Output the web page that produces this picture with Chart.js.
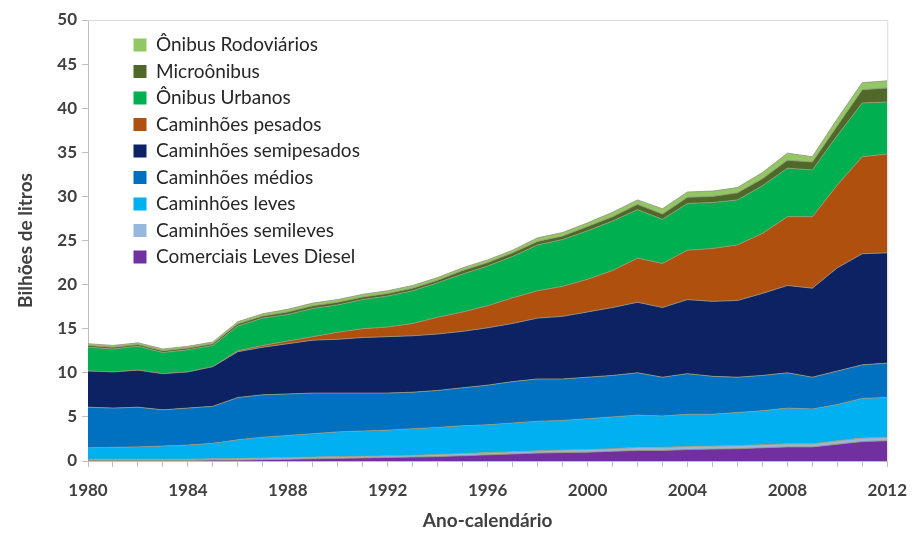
<!DOCTYPE html>
<html>
<head>
<meta charset="utf-8">
<script src="https://cdn.jsdelivr.net/npm/chart.js@4.4.1/dist/chart.umd.min.js"></script>
<style>
html, body { margin: 0; padding: 0; background: #fff; }
#wrap { width: 920px; height: 533px; }
</style>
</head>
<body>
<div id="wrap"><canvas id="mainChart"></canvas></div>
<script>
const years = [1980, 1981, 1982, 1983, 1984, 1985, 1986, 1987, 1988, 1989, 1990,
    1991, 1992, 1993, 1994, 1995, 1996, 1997, 1998, 1999, 2000,
    2001, 2002, 2003, 2004, 2005, 2006, 2007, 2008, 2009, 2010, 2011, 2012];

// bilhões de litros, from bottom layer to top layer
const comerciais = [0.05, 0.05, 0.05, 0.05, 0.05, 0.1, 0.1, 0.15, 0.2, 0.25, 0.3,
    0.35, 0.4, 0.45, 0.5, 0.6, 0.7, 0.8, 0.9, 0.95, 1.0,
    1.1, 1.2, 1.2, 1.3, 1.35, 1.4, 1.5, 1.6, 1.6, 1.9, 2.2, 2.3];
const semileves = [0.15, 0.15, 0.15, 0.15, 0.15, 0.15, 0.2, 0.2, 0.2, 0.2, 0.2,
    0.2, 0.2, 0.2, 0.25, 0.25, 0.25, 0.25, 0.25, 0.3, 0.3,
    0.3, 0.35, 0.35, 0.35, 0.35, 0.35, 0.35, 0.35, 0.35, 0.4, 0.4, 0.4];
const leves = [1.3, 1.35, 1.4, 1.5, 1.6, 1.75, 2.1, 2.35, 2.5, 2.65, 2.8,
    2.85, 2.9, 3.0, 3.05, 3.15, 3.15, 3.25, 3.35, 3.35, 3.5,
    3.6, 3.65, 3.55, 3.65, 3.6, 3.75, 3.85, 4.05, 3.95, 4.1, 4.5, 4.5];
const medios = [4.6, 4.45, 4.5, 4.1, 4.2, 4.2, 4.8, 4.8, 4.7, 4.6, 4.4,
    4.3, 4.2, 4.15, 4.2, 4.3, 4.5, 4.7, 4.8, 4.7, 4.7,
    4.7, 4.8, 4.4, 4.6, 4.3, 4.0, 4.0, 4.0, 3.6, 3.8, 3.8, 3.9];
const semipesados = [4.1, 4.1, 4.2, 4.1, 4.1, 4.5, 5.2, 5.4, 5.7, 6.0, 6.1,
    6.3, 6.4, 6.4, 6.4, 6.4, 6.5, 6.6, 6.9, 7.1, 7.4,
    7.7, 8.0, 7.9, 8.4, 8.5, 8.7, 9.3, 9.9, 10.1, 11.7, 12.6, 12.5];
const pesados = [0, 0, 0, 0, 0, 0, 0.1, 0.2, 0.3, 0.4, 0.8,
    1.0, 1.1, 1.4, 1.9, 2.2, 2.5, 2.9, 3.1, 3.4, 3.7,
    4.2, 5.0, 5.0, 5.6, 6.0, 6.3, 6.8, 7.8, 8.1, 9.4, 11.0, 11.2];
const urbanos = [2.7, 2.6, 2.7, 2.4, 2.5, 2.4, 2.8, 3.1, 3.0, 3.2, 3.1,
    3.3, 3.5, 3.7, 3.9, 4.3, 4.5, 4.7, 5.2, 5.3, 5.5,
    5.6, 5.5, 5.0, 5.3, 5.2, 5.1, 5.4, 5.5, 5.3, 5.6, 6.1, 5.9];
const microonibus = [0.2, 0.2, 0.2, 0.2, 0.2, 0.2, 0.25, 0.25, 0.3, 0.3, 0.3,
    0.3, 0.3, 0.3, 0.3, 0.4, 0.4, 0.4, 0.4, 0.4, 0.5,
    0.5, 0.6, 0.6, 0.7, 0.7, 0.8, 0.8, 0.9, 0.9, 1.1, 1.5, 1.6];
const rodoviarios = [0.2, 0.2, 0.2, 0.2, 0.2, 0.2, 0.25, 0.25, 0.3, 0.3, 0.3,
    0.3, 0.3, 0.3, 0.3, 0.3, 0.3, 0.3, 0.4, 0.4, 0.4,
    0.5, 0.5, 0.6, 0.6, 0.6, 0.6, 0.7, 0.8, 0.6, 0.8, 0.8, 0.8];

const seriesNames = ["Comerciais Leves Diesel", "Caminhões semileves", "Caminhões leves",
    "Caminhões médios", "Caminhões semipesados", "Caminhões pesados",
    "Ônibus Urbanos", "Microônibus", "Ônibus Rodoviários"];
const seriesData = [comerciais, semileves, leves, medios, semipesados, pesados,
    urbanos, microonibus, rodoviarios];
const seriesColors = ["#7030a0", "#95b8dc", "#00b0f0", "#0070c0", "#0c2262",
    "#b0500f", "#00b050", "#4f6a28", "#92c864"];

const font = "Lato, 'Open Sans', sans-serif";
const axisGray = "#bfbfbf";

// light frame on top and right of the plot
const frame = {
    id: "frame",
    afterDraw(chart) {
        const a = chart.chartArea;
        const ctx = chart.ctx;
        ctx.save();
        ctx.strokeStyle = "#d9d9d9";
        ctx.lineWidth = 1;
        ctx.beginPath();
        ctx.moveTo(a.left, a.top + 0.5);
        ctx.lineTo(a.right + 0.5, a.top + 0.5);
        ctx.lineTo(a.right + 0.5, a.bottom);
        ctx.stroke();
        ctx.restore();
    }
};

// put the legend box in the upper left corner of the plot
const legendSpot = {
    id: "legendSpot",
    afterLayout(chart) {
        chart.legend.left = 126;
        chart.legend.top = 28;
    }
};

new Chart(document.getElementById("mainChart"), {
    type: "line",
    data: {
        labels: years,
        datasets: seriesNames.map((name, i) => ({
            label: name,
            data: seriesData[i],
            backgroundColor: seriesColors[i],
            borderColor: "rgba(150,150,125,0.85)",
            borderWidth: 1,
            fill: i === 0 ? "origin" : "-1",
            pointRadius: 0,
            tension: 0
        }))
    },
    options: {
        responsive: true,
        maintainAspectRatio: false,
        animation: false,
        layout: { padding: { top: 20, right: 27, left: 0, bottom: 0 } },
        plugins: {
            tooltip: { enabled: false },
            legend: {
                position: "chartArea",
                align: "start",
                reverse: true,
                labels: {
                    boxWidth: 13,
                    boxHeight: 13,
                    padding: 7.5,
                    color: "#262626",
                    font: { family: font, size: 19 },
                    generateLabels(chart) {
                        return Chart.defaults.plugins.legend.labels.generateLabels(chart).map(l => {
                            l.strokeStyle = l.fillStyle;
                            l.lineWidth = 0;
                            return l;
                        });
                    }
                }
            }
        },
        scales: {
            x: {
                offset: false,
                grid: { display: true, drawOnChartArea: false, drawTicks: true, tickLength: 6, color: axisGray },
                border: { display: true, color: axisGray },
                ticks: {
                    autoSkip: false,
                    maxRotation: 0,
                    padding: 13,
                    color: "#404040",
                    font: { family: font, size: 17, weight: "bold" },
                    callback(value, index) {
                        return years[index] % 4 === 0 ? String(years[index]) : "";
                    }
                },
                title: {
                    display: true,
                    text: "Ano-calendário",
                    color: "#404040",
                    padding: { top: 4, bottom: 1 },
                    font: { family: font, size: 19, weight: "bold" }
                },
                afterFit(scale) { scale.height = 72; }
            },
            y: {
                stacked: true,
                min: 0,
                max: 50,
                grid: { display: true, drawOnChartArea: false, drawTicks: true, tickLength: 6, color: axisGray },
                border: { display: true, color: axisGray },
                ticks: {
                    stepSize: 5,
                    padding: 5,
                    color: "#404040",
                    font: { family: font, size: 17, weight: "bold" }
                },
                title: {
                    display: true,
                    text: "Bilhões de litros",
                    color: "#404040",
                    padding: { top: 14, bottom: 0 },
                    font: { family: font, size: 19, weight: "bold" }
                },
                afterFit(scale) { scale.width = 88; }
            }
        }
    },
    plugins: [frame, legendSpot]
});
</script>
</body>
</html>
